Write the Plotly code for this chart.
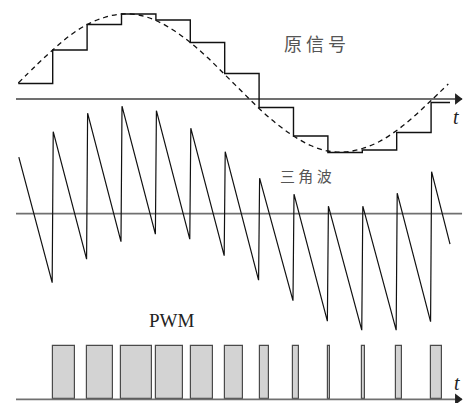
import plotly.graph_objects as go

# ---- data -------------------------------------------------------------
# sample instants (one per carrier period)
sample_t = [0, 1, 2, 3, 4, 5, 6, 7, 8, 9, 10, 11, 12]
hold_end_t = 12.55

# sampled (held) original signal
held_values = [0.31, 0.98, 1.49, 1.70, 1.58, 1.13, 0.51, -0.17, -0.74, -1.07, -1.02, -0.67, -0.07]

# continuous original signal (dashed)
orig_t = [0, 0.5, 1, 1.5, 2, 2.5, 3, 3.5, 4, 4.5, 5, 5.5, 6, 6.5, 7, 7.5, 8,
          8.5, 9, 9.5, 10, 10.5, 11, 11.5, 12, 12.5]
orig_v = [0.32, 0.66, 0.98, 1.27, 1.49, 1.63, 1.70, 1.68, 1.57, 1.38, 1.13, 0.83,
          0.49, 0.15, -0.19, -0.49, -0.74, -0.93, -1.04, -1.06, -0.99, -0.85,
          -0.63, -0.35, -0.03, 0.30]

# carrier ramp: value at the start (top) and end (bottom) of each period
ramp_top = [1.13, 1.64, 2.01, 2.15, 2.06, 1.71, 1.24, 0.71, 0.39, 0.15, 0.15, 0.41, 0.84]
ramp_bottom = [-1.38, -0.91, -0.56, -0.41, -0.51, -0.84, -1.33, -1.74, -2.15, -2.33, -2.33, -2.16]
ramp_end_t = 12.55
ramp_end_v = -0.61

# PWM pulses: start instant and width (in carrier periods)
pulse_start = [1.0, 2.0, 2.99, 3.99, 5.01, 6.02, 7.03, 8.0, 8.99, 10.0, 10.99, 12.0]
pulse_width = [0.64, 0.76, 0.91, 0.80, 0.66, 0.51, 0.26, 0.17, 0.08, 0.07, 0.15, 0.31]
pulse_level = 1.0

# ---- figure geometry ----------------------------------------------------
W, H = 467, 403
X_RANGE = [-0.532, 13.044]
AXIS_START, AXIS_END = -0.067, 12.90

fig = go.Figure()

AXIS_COLOR = "#707070"

# time axes of the three traces
for yref in ["y", "y2", "y3"]:
    fig.add_trace(go.Scatter(x=[AXIS_START, AXIS_END], y=[0, 0], mode="lines",
                             line=dict(color=AXIS_COLOR, width=1.8),
                             yaxis=yref, hoverinfo="skip", showlegend=False))

# arrow heads on the original-signal and PWM axes
for yref in ["y", "y3"]:
    fig.add_trace(go.Scatter(x=[AXIS_END - 0.13], y=[0], mode="markers",
                             marker=dict(symbol="triangle-right", size=10, color="#222222",
                                         line=dict(width=0)),
                             yaxis=yref, hoverinfo="skip", showlegend=False))

# dashed original signal
fig.add_trace(go.Scatter(x=orig_t, y=orig_v, mode="lines",
                         line=dict(color="#111111", width=1.3, dash="5px,4px", shape="spline"),
                         yaxis="y", showlegend=False))

# sample-and-hold staircase
fig.add_trace(go.Scatter(x=sample_t + [hold_end_t], y=held_values + [held_values[-1]],
                         mode="lines", line=dict(color="#111111", width=1.4, shape="hv"),
                         yaxis="y", showlegend=False))

# carrier ramp
ramp_x, ramp_y = [], []
for k, top in enumerate(ramp_top):
    ramp_x.append(sample_t[k] + 0.015)
    ramp_y.append(top)
    if k < len(ramp_bottom):
        ramp_x.append(sample_t[k + 1] - 0.015)
        ramp_y.append(ramp_bottom[k])
ramp_x.append(ramp_end_t)
ramp_y.append(ramp_end_v)
fig.add_trace(go.Scatter(x=ramp_x, y=ramp_y, mode="lines",
                         line=dict(color="#111111", width=1.2),
                         yaxis="y2", showlegend=False))

# PWM pulses
fig.add_trace(go.Bar(x=pulse_start, y=[pulse_level] * len(pulse_start),
                     width=pulse_width, offset=0, base=0,
                     marker=dict(color="#d3d3d3", line=dict(color="#4a4a4a", width=1.2)),
                     yaxis="y3", showlegend=False))

# ---- labels ----------------------------------------------------------
def px(x, y):
    return x / W, 1 - y / H

labels = [
    ("原 信 号", 315, 43, dict(family="Noto Sans CJK SC", size=18, color="#555555")),
    ("三 角 波", 306, 175, dict(family="Noto Sans CJK SC", size=15, color="#555555")),
    ("PWM", 172, 320, dict(family="Liberation Serif", size=19, color="#222222")),
    ("<i>t</i>", 456, 117, dict(family="Liberation Serif", size=20, color="#222222")),
    ("<i>t</i>", 457, 383, dict(family="Liberation Serif", size=20, color="#222222")),
]
for text, x, y, font in labels:
    xp, yp = px(x, y)
    fig.add_annotation(text=text, x=xp, y=yp, xref="paper", yref="paper",
                       showarrow=False, font=font, xanchor="center", yanchor="middle")

hidden = dict(visible=False, showgrid=False, zeroline=False, fixedrange=True)
fig.update_layout(
    width=W, height=H,
    margin=dict(l=0, r=0, t=0, b=0),
    paper_bgcolor="white", plot_bgcolor="white",
    xaxis=dict(range=X_RANGE, domain=[0, 1], **hidden),
    yaxis=dict(range=[-6.08, 1.98], domain=[0, 1], **hidden),
    yaxis2=dict(range=[-3.786, 4.274], overlaying="y", **hidden),
    yaxis3=dict(range=[-0.069, 7.45], overlaying="y", **hidden),
    bargap=0,
)

fig.write_html("out.html")
